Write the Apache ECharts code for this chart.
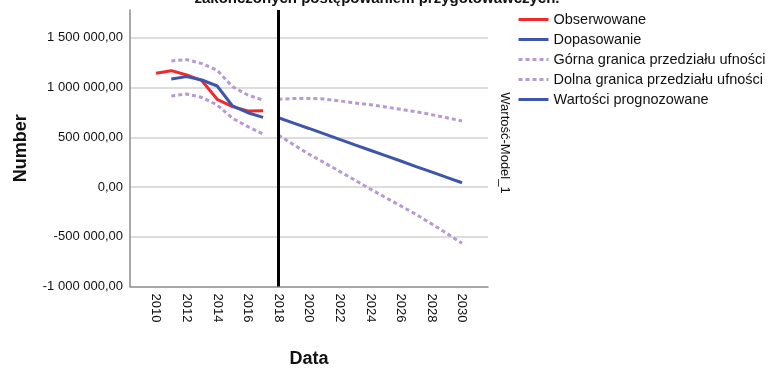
<!DOCTYPE html>
<html>
<head>
<meta charset="utf-8">
<script src="https://cdn.jsdelivr.net/npm/echarts@6/dist/echarts.min.js"></script>
<style>
  html, body { margin: 0; padding: 0; background: #fff; }
  #chart { width: 770px; height: 369px; }
</style>
</head>
<body>
<div id="chart"></div>
<script>
const yearsObs = [2010, 2011, 2012, 2013, 2014, 2015, 2016, 2017]
const observed = [1144000, 1170000, 1127000, 1069000, 882000, 808000, 765000, 768000]

const yearsFit = [2011, 2012, 2013, 2014, 2015, 2016, 2017]
const fitted = [1087000, 1110000, 1076000, 1016000, 815000, 747000, 700000]
const upperFit = [1268000, 1281000, 1241000, 1174000, 1009000, 925000, 875000]
const lowerFit = [915000, 936000, 901000, 825000, 691000, 608000, 533000]

const yearsFc = [2018, 2019, 2020, 2021, 2022, 2023, 2024, 2025, 2026, 2027, 2028, 2029, 2030]
const forecast = [697000, 642000, 589000, 535000, 480000, 424000, 370000, 316000, 262000, 206000, 152000, 98000, 43000]
const upperFc = [882000, 890000, 891000, 885000, 866000, 846000, 828000, 805000, 782000, 756000, 728000, 697000, 664000]
const lowerFc = [523000, 425000, 330000, 245000, 158000, 70000, -20000, -105000, -190000, -275000, -370000, -465000, -566000]

const xTicks = [2010, 2012, 2014, 2016, 2018, 2020, 2022, 2024, 2026, 2028, 2030]
const forecastStart = 2018

const pairs = (xs, ys) => xs.map((x, i) => [x, ys[i]])
// break the band between fit and forecast part
const band = (a, b) => pairs(yearsFit, a).concat([[2017.5, null]], pairs(yearsFc, b))

const fmt = v => {
  const s = Math.abs(v).toFixed(0).replace(/\B(?=(\d{3})+(?!\d))/g, ' ')
  return (v < 0 ? '-' : '') + s + ',00'
}

const FONT = "'Liberation Sans', Arial, sans-serif"
const RED = '#ee2a2e'
const BLUE = '#3d56aa'
const LILAC = '#b79ad1'

const chart = echarts.init(document.getElementById('chart'))

chart.setOption({
  animation: false,
  textStyle: { fontFamily: FONT },
  grid: { left: 130, right: 282, top: 10, bottom: 82.5, outerBoundsMode: 'none' },
  legend: {
    orient: 'vertical',
    left: 512,
    top: 7,
    itemWidth: 30,
    itemHeight: 14,
    itemGap: 5,
    itemStyle: { opacity: 0 },
    lineStyle: { width: 3 },
    textStyle: { fontSize: 14.5, lineHeight: 14, color: '#111', fontFamily: FONT },
    data: ['Obserwowane', 'Dopasowanie', 'Górna granica przedziału ufności', 'Dolna granica przedziału ufności', 'Wartości prognozowane']
  },
  graphic: [
    {
      type: 'text',
      x: 377, y: -1,
      style: {
        text: 'zakończonych postępowaniem przygotowawczych.',
        font: 'bold 15px ' + FONT,
        fill: '#111',
        align: 'center',
        verticalAlign: 'middle'
      }
    },
    {
      type: 'text',
      x: 505, y: 143,
      rotation: -Math.PI / 2,
      style: {
        text: 'Wartość-Model_1',
        font: '13px ' + FONT,
        fill: '#111',
        align: 'center',
        verticalAlign: 'middle'
      }
    }
  ],
  xAxis: {
    type: 'value',
    min: 2008.3,
    max: 2031.7,
    name: 'Data',
    nameLocation: 'middle',
    nameGap: 64,
    nameTextStyle: { fontSize: 18, fontWeight: 'bold', color: '#111' },
    axisLine: { onZero: false, lineStyle: { color: '#8c8c8c', width: 1.5 } },
    axisTick: { show: false },
    splitLine: { show: false },
    axisLabel: {
      customValues: xTicks,
      rotate: -90,
      margin: 7,
      fontSize: 13,
      color: '#111',
      formatter: v => String(v)
    }
  },
  yAxis: {
    type: 'value',
    min: -1000000,
    max: 1780000,
    interval: 500000,
    name: 'Number',
    nameLocation: 'middle',
    nameGap: 100,
    nameTextStyle: { fontSize: 18, fontWeight: 'bold', color: '#111' },
    axisLine: { show: true, lineStyle: { color: '#8c8c8c', width: 1.5 } },
    axisTick: { show: false },
    axisLabel: { fontSize: 13, color: '#111', margin: 7, showMaxLabel: false, formatter: fmt },
    splitLine: {
      showMinLine: false,
      showMaxLine: false,
      lineStyle: { color: '#d2d2d2', width: 1.5 }
    }
  },
  series: [
    {
      name: 'Obserwowane',
      type: 'line',
      data: pairs(yearsObs, observed),
      symbol: 'none',
      lineStyle: { color: RED, width: 3 },
      itemStyle: { color: RED },
      z: 3
    },
    {
      name: 'Dopasowanie',
      type: 'line',
      data: pairs(yearsFit, fitted),
      symbol: 'none',
      lineStyle: { color: BLUE, width: 3 },
      itemStyle: { color: BLUE },
      z: 4
    },
    {
      name: 'Górna granica przedziału ufności',
      type: 'line',
      data: band(upperFit, upperFc),
      symbol: 'none',
      connectNulls: false,
      lineStyle: { color: LILAC, width: 3, type: [4, 3] },
      itemStyle: { color: LILAC },
      z: 2
    },
    {
      name: 'Dolna granica przedziału ufności',
      type: 'line',
      data: band(lowerFit, lowerFc),
      symbol: 'none',
      connectNulls: false,
      lineStyle: { color: LILAC, width: 3, type: [4, 3] },
      itemStyle: { color: LILAC },
      z: 2
    },
    {
      name: 'Wartości prognozowane',
      type: 'line',
      data: pairs(yearsFc, forecast),
      symbol: 'none',
      lineStyle: { color: BLUE, width: 3 },
      itemStyle: { color: BLUE },
      z: 4,
      markLine: {
        silent: true,
        symbol: 'none',
        label: { show: false },
        lineStyle: { color: '#000', width: 3, type: 'solid' },
        data: [{ xAxis: forecastStart }],
        z: 10
      }
    }
  ]
})
</script>
</body>
</html>
